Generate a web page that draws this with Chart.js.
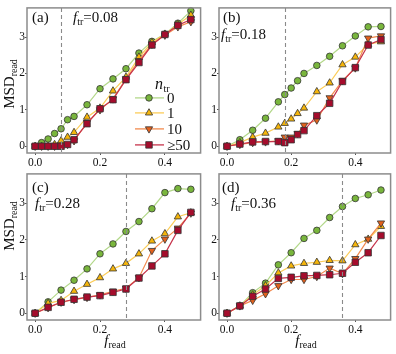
<!DOCTYPE html>
<html>
<head>
<meta charset="utf-8">
<script src="https://cdn.jsdelivr.net/npm/chart.js@4/dist/chart.umd.min.js"></script>
<style>
body { margin:0; background:#fff; }
#wrap { position:relative; width:396px; height:354px; font-family:'Liberation Serif', serif; color:#111; }
canvas { position:absolute; }
.lab { position:absolute; font-size:15px; line-height:15px; white-space:nowrap; }
.lab sub { font-size:10px; vertical-align:-3px; line-height:0; }
.ylab { position:absolute; font-size:15px; line-height:15px; white-space:nowrap; transform:translate(-50%,-50%) rotate(-90deg); }
.ylab sub { font-size:10px; vertical-align:-3px; line-height:0; }
.xlab { position:absolute; font-size:15px; line-height:15px; white-space:nowrap; transform:translateX(-50%); }
.xlab sub { font-size:10px; vertical-align:-3px; line-height:0; }
</style>
</head>
<body>
<div id="wrap">
  <canvas id="pa" width="201" height="168" style="left:5px;top:1px"></canvas>
  <canvas id="pb" width="199" height="168" style="left:197px;top:1px"></canvas>
  <canvas id="pc" width="201" height="169" style="left:5px;top:167px"></canvas>
  <canvas id="pd" width="199" height="169" style="left:197px;top:167px"></canvas>

  <div class="lab" style="left:32px;top:10px">(a)</div>
  <div class="lab" style="left:73px;top:10px"><i>f</i><sub>tr</sub>=0.08</div>
  <div class="lab" style="left:223px;top:10px">(b)</div>
  <div class="lab" style="left:221px;top:27px"><i>f</i><sub>tr</sub>=0.18</div>
  <div class="lab" style="left:32px;top:180px">(c)</div>
  <div class="lab" style="left:35px;top:196px"><i>f</i><sub>tr</sub>=0.28</div>
  <div class="lab" style="left:222px;top:180px">(d)</div>
  <div class="lab" style="left:231px;top:196px"><i>f</i><sub>tr</sub>=0.36</div>

  <div class="ylab" style="left:9px;top:84px">MSD<sub>read</sub></div>
  <div class="ylab" style="left:9px;top:226px">MSD<sub>read</sub></div>
  <div class="xlab" style="left:115px;top:333px"><i>f</i><sub>read</sub></div>
  <div class="xlab" style="left:306px;top:333px"><i>f</i><sub>read</sub></div>
</div>
<script>
// n_tr = 0, 1, 10, >=50
const seriesNames = ['0', '1', '10', '\u226550'];
const xTicks = [0, 0.2, 0.4];
const yTicks = [0, 1, 2, 3];

// (a) f_tr = 0.08
const xA = [0, 0.02, 0.04, 0.06, 0.08, 0.10, 0.12, 0.16, 0.20, 0.24, 0.28, 0.32, 0.36, 0.40, 0.44, 0.48];
const a0 = [0, 0.1, 0.2, 0.35, 0.48, 0.73, 0.82, 1.14, 1.58, 1.85, 2.13, 2.56, 2.88, 3.08, 3.38, 3.72];
const a1 = [0, 0, 0, 0.05, 0.15, 0.25, 0.38, 0.8, 1.05, 1.52, 1.9, 2.45, 2.85, 3.08, 3.35, 3.6];
const a10 = [0, 0, 0, 0, 0.02, 0.05, 0.15, 0.65, 1.0, 1.3, 1.85, 2.35, 2.8, 3.05, 3.28, 3.42];
const a50 = [0, 0, 0, 0, 0, 0.05, 0.18, 0.62, 1.03, 1.28, 1.83, 2.3, 2.78, 3.07, 3.32, 3.48];

// (b) f_tr = 0.18
const xB = [0, 0.04, 0.08, 0.12, 0.16, 0.18, 0.20, 0.22, 0.24, 0.28, 0.32, 0.36, 0.40, 0.44, 0.48];
const b0 = [0, 0.18, 0.44, 0.77, 1.22, 1.42, 1.6, 1.8, 2.0, 2.22, 2.47, 2.76, 3.03, 3.28, 3.29];
const b1 = [0, 0.1, 0.25, 0.36, 0.53, 0.63, 0.75, 0.9, 1.05, 1.5, 1.74, 2.24, 2.45, 2.8, 2.87];
const b10 = [0, 0.05, 0.1, 0.12, 0.15, 0.25, 0.25, 0.35, 0.58, 0.72, 1.33, 1.8, 2.15, 2.97, 3.03];
const b50 = [0, 0.06, 0.12, 0.13, 0.13, 0.1, 0.18, 0.32, 0.43, 0.84, 1.18, 1.78, 2.16, 2.78, 2.93];

// (c) f_tr = 0.28
const xC = [0, 0.04, 0.08, 0.12, 0.16, 0.20, 0.24, 0.28, 0.32, 0.36, 0.40, 0.44, 0.48];
const c0 = [0, 0.31, 0.63, 0.9, 1.21, 1.62, 1.89, 2.23, 2.5, 2.85, 3.29, 3.4, 3.38];
const c1 = [0, 0.27, 0.35, 0.6, 0.79, 0.97, 1.21, 1.36, 1.62, 1.97, 2.17, 2.63, 2.74];
const c10 = [0, 0.15, 0.3, 0.37, 0.43, 0.5, 0.6, 0.68, 0.97, 1.71, 2.02, 2.32, 2.73];
const c50 = [0, 0.16, 0.3, 0.38, 0.44, 0.48, 0.57, 0.66, 0.96, 1.29, 1.62, 2.26, 2.75];

// (d) f_tr = 0.36
const xD = [0, 0.04, 0.08, 0.12, 0.16, 0.20, 0.24, 0.28, 0.32, 0.36, 0.40, 0.44, 0.48];
const d0 = [0, 0.2, 0.56, 0.82, 1.32, 1.65, 2.04, 2.26, 2.61, 2.91, 3.13, 3.23, 3.36];
const d1 = [0, 0.2, 0.5, 0.75, 1.1, 1.29, 1.36, 1.39, 1.44, 1.43, 1.87, 2.02, 2.37];
const d10 = [0, 0.2, 0.35, 0.53, 0.75, 0.92, 0.92, 1.0, 1.23, 1.08, 1.49, 2.02, 2.46];
const d50 = [0, 0.2, 0.46, 0.66, 0.95, 0.98, 1.02, 1.03, 1.05, 1.09, 1.39, 1.65, 2.12];

const ftrA = 0.08, ftrB = 0.18, ftrC = 0.28, ftrD = 0.36;

const styles = [
  {fill:'#79b63c', line:'#b3d88a', shape:'circle', r:3.3, rot:0},
  {fill:'#f5b50a', line:'#fbcd5a', shape:'triangle', r:4.2, rot:0},
  {fill:'#e3611c', line:'#f28a4e', shape:'triangle', r:4.2, rot:180},
  {fill:'#a50c2c', line:'#c6344c', shape:'rect', r:4.6, rot:0}
];

const FONT = "'Liberation Serif', serif";

const framePlugin = {
  id:'frame',
  afterDraw(chart, args, opts) {
    const ctx = chart.ctx, ca = chart.chartArea;
    const xs = chart.scales.x;
    // dashed f_tr line
    ctx.save();
    ctx.strokeStyle = '#8a8a8a';
    ctx.lineWidth = 1.1;
    ctx.setLineDash([4, 3]);
    const px = Math.round(xs.getPixelForValue(opts.ftr)) + 0.5;
    ctx.beginPath();
    ctx.moveTo(px, ca.top);
    ctx.lineTo(px, ca.bottom);
    ctx.stroke();
    ctx.restore();
  },
  afterDatasetsDraw(chart) {
    const ctx = chart.ctx, ca = chart.chartArea;
    ctx.save();
    ctx.strokeStyle = '#8c8c8c';
    ctx.lineWidth = 1.5;
    ctx.strokeRect(ca.left, ca.top, ca.right - ca.left, ca.bottom - ca.top);
    ctx.restore();
  }
};

const legendPlugin = {
  id:'trLegend',
  afterDraw(chart, args, opts) {
    if (!opts.show) return;
    const ctx = chart.ctx, ca = chart.chartArea;
    ctx.save();
    ctx.fillStyle = '#111';
    ctx.textBaseline = 'alphabetic';
    ctx.font = 'italic 16px ' + FONT;
    const tx = ca.left + 128, ty = ca.top + 81;
    ctx.fillText('n', tx, ty);
    const nw = ctx.measureText('n').width;
    ctx.font = '10px ' + FONT;
    ctx.fillText('tr', tx + nw + 0.5, ty + 3);
    const rows = [90, 105, 121, 137];
    styles.forEach((s, i) => {
      const y = ca.top + rows[i];
      ctx.strokeStyle = s.line;
      ctx.lineWidth = 1.3;
      ctx.beginPath();
      ctx.moveTo(ca.left + 108, y);
      ctx.lineTo(ca.left + 137, y);
      ctx.stroke();
      ctx.fillStyle = s.fill;
      ctx.strokeStyle = '#333';
      ctx.lineWidth = 0.8;
      Chart.helpers.drawPoint(ctx, {pointStyle:s.shape, radius:s.r, rotation:s.rot, borderWidth:0.8}, ca.left + 122, y);
      ctx.fillStyle = '#111';
      ctx.font = '15px ' + FONT;
      ctx.textBaseline = 'middle';
      ctx.fillText(seriesNames[i], ca.left + 140, y + 1);
    });
    ctx.restore();
  }
};

function makePanel(id, xs, ys, ftr, showLegend) {
  const canvas = document.getElementById(id);
  const plotW = id === 'pa' || id === 'pc' ? 176 : 175;
  const datasets = ys.map((vals, i) => ({
    label: seriesNames[i],
    data: xs.map((x, k) => ({x: x, y: vals[k]})),
    borderColor: styles[i].line,
    borderWidth: 1.2,
    backgroundColor: styles[i].fill,
    pointBackgroundColor: styles[i].fill,
    pointBorderColor: '#333',
    pointBorderWidth: 0.8,
    pointStyle: styles[i].shape,
    pointRadius: styles[i].r,
    pointRotation: styles[i].rot,
    tension: 0,
    fill: false,
    order: 3 - i,
    clip: 6
  }));
  new Chart(canvas, {
    type:'line',
    data:{ datasets: datasets },
    options:{
      responsive:false,
      animation:false,
      devicePixelRatio:1,
      layout:{ padding:{ top:2, right: canvas.width - 22 - plotW, left:0, bottom:0 } },
      plugins:{
        legend:{ display:false },
        tooltip:{ enabled:false },
        frame:{ ftr: ftr },
        trLegend:{ show: showLegend }
      },
      scales:{
        x:{
          type:'linear',
          min:-0.025, max:0.51,
          afterBuildTicks: ax => { ax.ticks = xTicks.map(v => ({value:v})); },
          afterFit: ax => { ax.height = 16; },
          grid:{ display:true, drawOnChartArea:false, drawTicks:true, tickLength:2, color:'#555' },
          border:{ display:false },
          ticks:{ padding:1, color:'#111', font:{ family:FONT, size:11.5 }, callback: v => v.toFixed(1) }
        },
        y:{
          type:'linear',
          min:-0.185, max:3.8,
          afterBuildTicks: ax => { ax.ticks = yTicks.map(v => ({value:v})); },
          afterFit: ax => { ax.width = 22; },
          grid:{ display:true, drawOnChartArea:false, drawTicks:true, tickLength:2, color:'#555' },
          border:{ display:false },
          ticks:{ padding:0, color:'#111', font:{ family:FONT, size:11.5 }, callback: v => String(v) }
        }
      }
    },
    plugins:[framePlugin, legendPlugin]
  });
}

makePanel('pa', xA, [a0, a1, a10, a50], ftrA, true);
makePanel('pb', xB, [b0, b1, b10, b50], ftrB, false);
makePanel('pc', xC, [c0, c1, c10, c50], ftrC, false);
makePanel('pd', xD, [d0, d1, d10, d50], ftrD, false);
</script>
</body>
</html>
